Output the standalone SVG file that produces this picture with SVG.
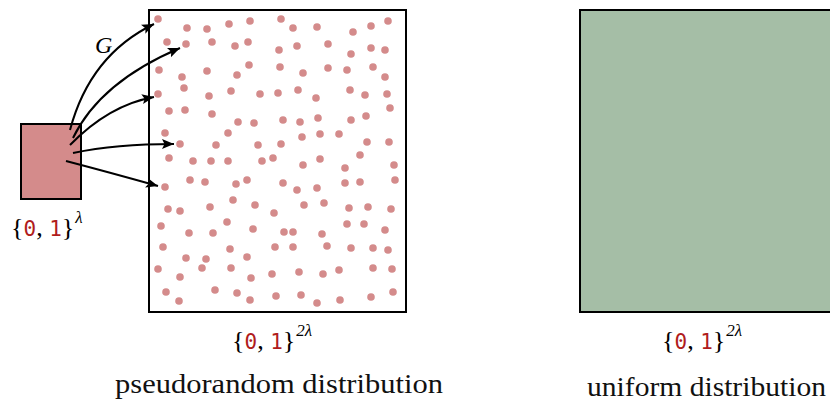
<svg xmlns="http://www.w3.org/2000/svg" width="830" height="402" viewBox="0 0 830 402">
<defs>
<style>
.box{stroke:#000;stroke-width:2}
.dot{fill:#d48b8b}
.conn{fill:none;stroke:#000;stroke-width:2;marker-end:url(#ah)}
.s{font-family:"Liberation Serif",serif;font-size:26px;fill:#000}
.m{font-family:"DejaVu Sans Mono",monospace;font-size:21px;fill:#b01c1c}
.sup{font-family:"Liberation Serif",serif;font-size:17px;font-style:italic;fill:#000}
.cap{font-family:"Liberation Serif",serif;font-size:27px;fill:#111}
</style>
<marker id="ah" markerUnits="userSpaceOnUse" markerWidth="14" markerHeight="12" refX="12" refY="5" orient="auto">
<path d="M0,0 L12,5 L0,10 L2.5,5 z" fill="#000"/>
</marker>
</defs>
<rect width="830" height="402" fill="#fff"/>

<g id="seed">
<rect class="box" x="21" y="124" width="60" height="75" fill="#d48b8b"/>
<text x="11" y="236"><tspan class="s">{</tspan><tspan class="m">0</tspan><tspan class="s">, </tspan><tspan class="m">1</tspan><tspan class="s">}</tspan><tspan class="sup" dy="-13" dx="1">λ</tspan></text>
</g>

<g id="pseudorandom">
<rect class="box" x="149" y="10" width="257" height="302" fill="#fff"/>
<g class="dot">
<circle cx="158" cy="19" r="3.8"/><circle cx="187" cy="28" r="3.8"/><circle cx="207" cy="29" r="3.8"/><circle cx="229" cy="24" r="3.8"/><circle cx="250" cy="21" r="3.8"/><circle cx="281" cy="19" r="3.8"/><circle cx="293" cy="28" r="3.8"/><circle cx="317" cy="27" r="3.8"/><circle cx="353" cy="32" r="3.8"/><circle cx="371" cy="26" r="3.8"/><circle cx="388" cy="21" r="3.8"/>
<circle cx="167" cy="42" r="3.8"/><circle cx="186" cy="44" r="3.8"/><circle cx="212" cy="42" r="3.8"/><circle cx="235" cy="46" r="3.8"/><circle cx="248" cy="42" r="3.8"/><circle cx="279" cy="50" r="3.8"/><circle cx="297" cy="46" r="3.8"/><circle cx="328" cy="44" r="3.8"/><circle cx="351" cy="54" r="3.8"/><circle cx="371" cy="48" r="3.8"/><circle cx="385" cy="50" r="3.8"/>
<circle cx="159" cy="70" r="3.8"/><circle cx="182" cy="77" r="3.8"/><circle cx="207" cy="71" r="3.8"/><circle cx="237" cy="75" r="3.8"/><circle cx="249" cy="65" r="3.8"/><circle cx="280" cy="67" r="3.8"/><circle cx="303" cy="73" r="3.8"/><circle cx="328" cy="68" r="3.8"/><circle cx="347" cy="70" r="3.8"/><circle cx="373" cy="67" r="3.8"/><circle cx="385" cy="77" r="3.8"/>
<circle cx="184" cy="88" r="3.8"/><circle cx="158" cy="94" r="3.8"/><circle cx="209" cy="96" r="3.8"/><circle cx="231" cy="91" r="3.8"/><circle cx="260" cy="94" r="3.8"/><circle cx="278" cy="93" r="3.8"/><circle cx="298" cy="90" r="3.8"/><circle cx="316" cy="98" r="3.8"/><circle cx="350" cy="90" r="3.8"/><circle cx="365" cy="95" r="3.8"/><circle cx="387" cy="94" r="3.8"/>
<circle cx="169" cy="111" r="3.8"/><circle cx="185" cy="110" r="3.8"/><circle cx="212" cy="114" r="3.8"/><circle cx="238" cy="122" r="3.8"/><circle cx="254" cy="123" r="3.8"/><circle cx="283" cy="120" r="3.8"/><circle cx="300" cy="122" r="3.8"/><circle cx="318" cy="118" r="3.8"/><circle cx="351" cy="120" r="3.8"/><circle cx="366" cy="116" r="3.8"/><circle cx="390" cy="108" r="3.8"/>
<circle cx="165" cy="133" r="3.8"/><circle cx="180" cy="144" r="3.8"/><circle cx="216" cy="145" r="3.8"/><circle cx="228" cy="133" r="3.8"/><circle cx="258" cy="145" r="3.8"/><circle cx="281" cy="144" r="3.8"/><circle cx="302" cy="137" r="3.8"/><circle cx="320" cy="134" r="3.8"/><circle cx="339" cy="134" r="3.8"/><circle cx="367" cy="142" r="3.8"/><circle cx="389" cy="142" r="3.8"/>
<circle cx="169" cy="158" r="3.8"/><circle cx="193" cy="161" r="3.8"/><circle cx="211" cy="161" r="3.8"/><circle cx="228" cy="161" r="3.8"/><circle cx="262" cy="161" r="3.8"/><circle cx="273" cy="158" r="3.8"/><circle cx="303" cy="165" r="3.8"/><circle cx="320" cy="159" r="3.8"/><circle cx="345" cy="168" r="3.8"/><circle cx="360" cy="155" r="3.8"/><circle cx="394" cy="165" r="3.8"/>
<circle cx="165" cy="187" r="3.8"/><circle cx="190" cy="180" r="3.8"/><circle cx="205" cy="182" r="3.8"/><circle cx="236" cy="184" r="3.8"/><circle cx="247" cy="180" r="3.8"/><circle cx="283" cy="183" r="3.8"/><circle cx="297" cy="190" r="3.8"/><circle cx="317" cy="188" r="3.8"/><circle cx="345" cy="183" r="3.8"/><circle cx="360" cy="182" r="3.8"/><circle cx="395" cy="180" r="3.8"/>
<circle cx="168" cy="209" r="3.8"/><circle cx="180" cy="211" r="3.8"/><circle cx="210" cy="207" r="3.8"/><circle cx="233" cy="200" r="3.8"/><circle cx="255" cy="205" r="3.8"/><circle cx="274" cy="213" r="3.8"/><circle cx="304" cy="205" r="3.8"/><circle cx="324" cy="203" r="3.8"/><circle cx="349" cy="208" r="3.8"/><circle cx="368" cy="207" r="3.8"/><circle cx="391" cy="209" r="3.8"/>
<circle cx="161" cy="226" r="3.8"/><circle cx="189" cy="233" r="3.8"/><circle cx="213" cy="233" r="3.8"/><circle cx="227" cy="222" r="3.8"/><circle cx="253" cy="229" r="3.8"/><circle cx="284" cy="232" r="3.8"/><circle cx="293" cy="232" r="3.8"/><circle cx="322" cy="234" r="3.8"/><circle cx="347" cy="224" r="3.8"/><circle cx="364" cy="224" r="3.8"/><circle cx="385" cy="230" r="3.8"/>
<circle cx="163" cy="247" r="3.8"/><circle cx="186" cy="258" r="3.8"/><circle cx="206" cy="259" r="3.8"/><circle cx="230" cy="249" r="3.8"/><circle cx="247" cy="257" r="3.8"/><circle cx="275" cy="247" r="3.8"/><circle cx="293" cy="247" r="3.8"/><circle cx="327" cy="246" r="3.8"/><circle cx="351" cy="248" r="3.8"/><circle cx="373" cy="248" r="3.8"/><circle cx="388" cy="250" r="3.8"/>
<circle cx="158" cy="269" r="3.8"/><circle cx="180" cy="277" r="3.8"/><circle cx="202" cy="268" r="3.8"/><circle cx="231" cy="268" r="3.8"/><circle cx="251" cy="278" r="3.8"/><circle cx="272" cy="274" r="3.8"/><circle cx="299" cy="272" r="3.8"/><circle cx="323" cy="274" r="3.8"/><circle cx="339" cy="270" r="3.8"/><circle cx="373" cy="268" r="3.8"/><circle cx="392" cy="269" r="3.8"/>
<circle cx="166" cy="292" r="3.8"/><circle cx="179" cy="301" r="3.8"/><circle cx="215" cy="290" r="3.8"/><circle cx="237" cy="293" r="3.8"/><circle cx="250" cy="300" r="3.8"/><circle cx="276" cy="296" r="3.8"/><circle cx="301" cy="295" r="3.8"/><circle cx="317" cy="303" r="3.8"/><circle cx="340" cy="300" r="3.8"/><circle cx="371" cy="297" r="3.8"/><circle cx="393" cy="292" r="3.8"/>
</g>
<text x="232" y="349"><tspan class="s">{</tspan><tspan class="m">0</tspan><tspan class="s">, </tspan><tspan class="m">1</tspan><tspan class="s">}</tspan><tspan class="sup" dy="-13" dx="1" font-style="normal">2</tspan><tspan class="sup">λ</tspan></text>
<text class="cap" x="115" y="393" textLength="328" lengthAdjust="spacingAndGlyphs">pseudorandom distribution</text>
</g>

<g id="uniform">
<rect class="box" x="580" y="10" width="270" height="302" fill="#a5bea6"/>
<text x="662" y="349"><tspan class="s">{</tspan><tspan class="m">0</tspan><tspan class="s">, </tspan><tspan class="m">1</tspan><tspan class="s">}</tspan><tspan class="sup" dy="-13" dx="1" font-style="normal">2</tspan><tspan class="sup">λ</tspan></text>
<text class="cap" x="587" y="396" textLength="239" lengthAdjust="spacingAndGlyphs">uniform distribution</text>
</g>

<g id="connectors">
<path class="conn" d="M70,130 Q90,55 154,24"/>
<path class="conn" d="M73,138 Q100,82 180,48"/>
<path class="conn" d="M70,145 Q109,105 154,97"/>
<path class="conn" d="M73,153 Q116,144 174,144"/>
<path class="conn" d="M66,161 Q108,172 158,186"/>
<text x="95" y="53" font-family="Liberation Serif, serif" font-style="italic" font-size="24" fill="#000">G</text>
</g>
</svg>
